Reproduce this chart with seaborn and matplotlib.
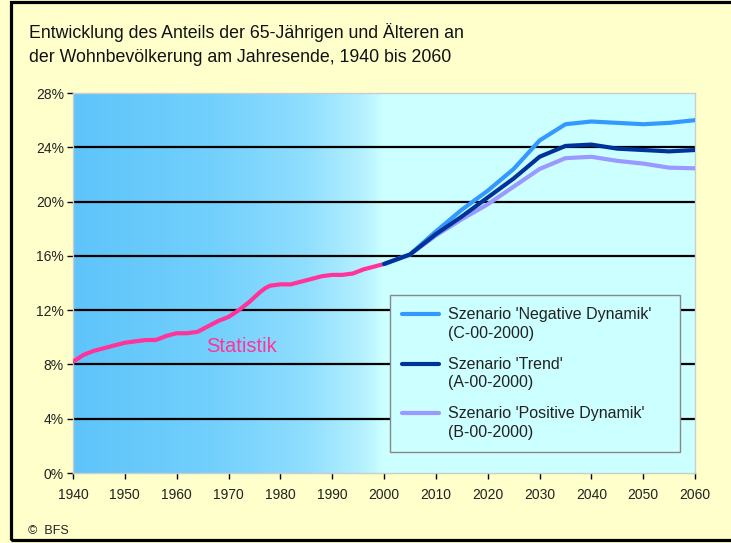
import matplotlib
matplotlib.use("Agg")
import matplotlib.pyplot as plt
import seaborn as sns
import pandas as pd
import numpy as np
from matplotlib.colors import LinearSegmentedColormap
from matplotlib.patches import Rectangle
from matplotlib.legend_handler import HandlerLine2D

# Data (share of 65+ in %)
stat_years = [1940, 1942, 1944, 1946, 1948, 1950, 1952, 1954, 1956, 1958, 1960,
              1962, 1964, 1966, 1968, 1970, 1972, 1974, 1976, 1977, 1978, 1980,
              1982, 1984, 1986, 1988, 1990, 1992, 1994, 1996, 1998, 2000]
stat_values = [8.2, 8.7, 9.0, 9.2, 9.4, 9.6, 9.7, 9.8, 9.8, 10.1, 10.3,
               10.3, 10.4, 10.8, 11.2, 11.5, 12.0, 12.6, 13.3, 13.6, 13.8, 13.9,
               13.9, 14.1, 14.3, 14.5, 14.6, 14.6, 14.7, 15.0, 15.2, 15.4]

scen_years = [2000, 2005, 2010, 2015, 2020, 2025, 2030, 2035, 2040, 2045, 2050, 2055, 2060]
negative = [15.4, 16.1, 17.8, 19.4, 20.8, 22.4, 24.5, 25.7, 25.9, 25.8, 25.7, 25.8, 26.0]
trend = [15.4, 16.1, 17.6, 18.9, 20.3, 21.7, 23.3, 24.1, 24.2, 23.9, 23.8, 23.7, 23.8]
positive = [15.4, 16.1, 17.5, 18.7, 19.8, 21.1, 22.4, 23.2, 23.3, 23.0, 22.8, 22.5, 22.45]

labels = ["Szenario 'Negative Dynamik'\n(C-00-2000)",
          "Szenario 'Trend'\n(A-00-2000)",
          "Szenario 'Positive Dynamik'\n(B-00-2000)"]
colors = ["#3399ff", "#003399", "#9999ff"]

df_stat = pd.DataFrame({"year": stat_years, "value": stat_values})
df_scen = pd.concat([
    pd.DataFrame({"year": scen_years, "value": v, "szenario": lab})
    for v, lab in zip([negative, trend, positive], labels)
])


class TopLineHandler(HandlerLine2D):
    # put the legend line next to the first text line instead of the middle
    def create_artists(self, legend, orig_handle, xdescent, ydescent, width, height, fontsize, trans):
        arts = super().create_artists(legend, orig_handle, xdescent, ydescent,
                                      width, height, fontsize, trans)
        for a in arts:
            a.set_ydata(np.asarray(a.get_ydata()) + 0.65 * fontsize)
        return arts


sns.set_style("white")
plt.rcParams["font.family"] = ["Liberation Sans", "DejaVu Sans"]

fig = plt.figure(figsize=(7.31, 5.43), dpi=100, facecolor="#ffffcc")
fig.patches.append(Rectangle((0.0144, 0.0055), 1.1, 0.9908, transform=fig.transFigure,
                             fill=False, edgecolor="black", linewidth=2.3, zorder=0))
ax = fig.add_axes([0.0999, 0.1289, 0.8509, 0.6998])
ax.set_facecolor("#ccffff")

# gradient background for the historical period
grad_cmap = LinearSegmentedColormap.from_list(
    "bg", [(0, "#5ec4fa"), (0.45, "#72d0fc"), (0.75, "#90defe"), (0.93, "#b4f0ff"), (1, "#ccffff")])
ax.imshow(np.linspace(0, 1, 300).reshape(1, -1), cmap=grad_cmap, aspect="auto",
          extent=[1940, 2000, 0, 28], zorder=0)

for y in range(4, 28, 4):
    ax.axhline(y, color="black", lw=1.6, zorder=1)

sns.lineplot(data=df_stat, x="year", y="value", color="#ff3399", lw=3, ax=ax, zorder=3)
for i in [0, 2, 1]:
    sub = df_scen[df_scen["szenario"] == labels[i]]
    sns.lineplot(data=sub, x="year", y="value", color=colors[i], lw=3, ax=ax,
                 zorder=4 + (i == 1), label=labels[i])

ax.set_xlim(1940, 2060)
ax.set_ylim(0, 28)
ax.set_xticks(range(1940, 2061, 10))
ax.set_yticks(range(0, 29, 4))
ax.set_yticklabels([f"{v}%" for v in range(0, 29, 4)])
ax.set_xlabel("")
ax.set_ylabel("")
ax.tick_params(axis="both", labelsize=10, length=4.5, width=1, color="black",
               direction="out", bottom=True, left=True, labelcolor="#222222")
ax.tick_params(axis="x", pad=6)
ax.tick_params(axis="y", pad=2)
for s in ax.spines.values():
    s.set_color("#cccccc")
    s.set_linewidth(1)

ax.text(1972.5, 9.3, "Statistik", color="#ff3399", fontsize=14.5, ha="center", va="center", zorder=6)

handles, labs = ax.get_legend_handles_labels()
hmap = dict(zip(labs, handles))
leg = ax.legend([hmap[l] for l in labels], labels, loc="upper left",
                bbox_to_anchor=(0.5096, 0.468, 0.466, 0.0), mode="expand",
                borderaxespad=0, frameon=True, fontsize=11.5,
                facecolor="#ccffff", edgecolor="#888888", framealpha=1, fancybox=False,
                handlelength=2.3, labelspacing=1.0, borderpad=0.75, handletextpad=0.6,
                handler_map={plt.Line2D: TopLineHandler()})
for t in leg.get_texts():
    t.set_color("#222222")
    t.set_linespacing(1.3)
leg.get_frame().set_linewidth(1)
leg.set_zorder(7)

fig.text(0.0397, 0.9398, "Entwicklung des Anteils der 65-Jährigen und Älteren an",
         fontsize=12.8, ha="left", va="center", color="#111111")
fig.text(0.0397, 0.8932, "der Wohnbevölkerung am Jahresende, 1940 bis 2060",
         fontsize=12.8, ha="left", va="center", color="#111111")
fig.text(0.038, 0.0221, "©  BFS", fontsize=9, ha="left", va="center", color="#222222")

fig.savefig("out.png", dpi=100, facecolor=fig.get_facecolor())
